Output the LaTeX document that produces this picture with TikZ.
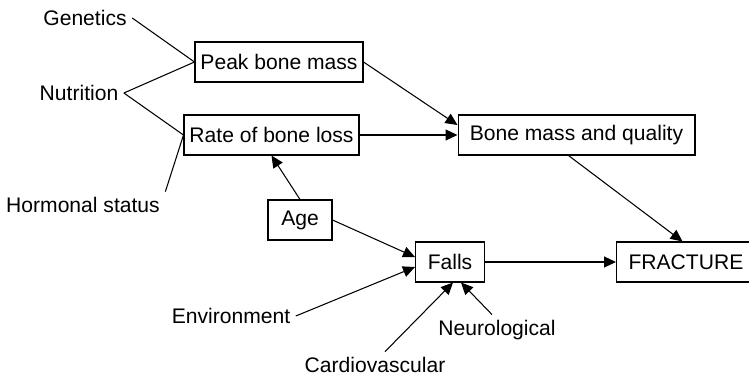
\documentclass[tikz,border=0pt]{standalone}
\usepackage{fontspec}
\setmainfont{Liberation Sans}
\usetikzlibrary{positioning,arrows.meta}
\tikzset{
  fx box/.style={draw, line width=0.6pt, minimum height=0.8cm, inner sep=2pt, font=\fontsize{12}{14}\selectfont},
  fx lbl/.style={inner sep=3pt, font=\fontsize{12}{14}\selectfont},
  fx line/.style={line width=0.6pt},
  fx arr/.style={fx line, -{Triangle[length=2.4mm, width=2.2mm]}},
}
\begin{document}
\begin{tikzpicture}[x=0.02cm, y=-0.02cm]
  \useasboundingbox (0,0) rectangle (749,376);
  \clip (0,0) rectangle (749,376);
  % the boxes of the chain
  \node[fx box, minimum width=3.36cm] (peak) at (279,62)    {Peak bone mass};
  \node[fx box, minimum width=3.5cm]  (rate) at (271.5,135) {Rate of bone loss};
  \node[fx box, minimum width=1.28cm] (age)  at (300,220)   {Age};
  \node[fx box, minimum width=4.74cm] (bone) at (576.5,135) {Bone mass and quality};
  \node[fx box, minimum width=1.38cm] (falls) at (450,262)  {Falls};
  \node[fx box, anchor=west, inner xsep=0.24cm, text width=3.4cm, align=left] (frac) at (616,262) {FRACTURE};
  % the factors, plain text
  \node[fx lbl] (gen)  at (85,18)   {Genetics};
  \node[fx lbl] (nut)  at (79,93)   {Nutrition};
  \node[fx lbl] (hor)  at (83,205)  {Hormonal status};
  \node[fx lbl] (env)  at (231,316) {Environment};
  \node[fx lbl] (card) at (375,365) {Cardiovascular};
  \node[fx lbl] (neur) at (497,330) {Neurological};
  % plain lines into the first boxes
  \draw[fx line] (gen.east) -- (peak.west);
  \draw[fx line] (nut.east) -- (peak.west);
  \draw[fx line] (nut.east) -- (rate.west);
  \draw[fx line] (hor.north east) -- (rate.west);
  % arrows
  \draw[fx arr] (age.north) -- (rate.south);
  \draw[fx arr] (peak.east) -- ([yshift=0.2cm]bone.west);
  \draw[fx arr] (rate.east) -- (bone.west);
  \draw[fx arr] ([xshift=-0.16cm]bone.south) -- ([xshift=-0.62cm]frac.north);
  \draw[fx arr] (age.east) -- ([yshift=0.1cm]falls.west);
  \draw[fx arr] (env.east) -- ([yshift=-0.1cm]falls.west);
  \draw[fx arr] ([xshift=0.2cm]card.north) -- ([xshift=0.06cm]falls.south);
  \draw[fx arr] ([xshift=-0.1cm]neur.north) -- ([xshift=0.22cm]falls.south);
  \draw[fx arr] (falls.east) -- (frac.west);
\end{tikzpicture}
\end{document}
